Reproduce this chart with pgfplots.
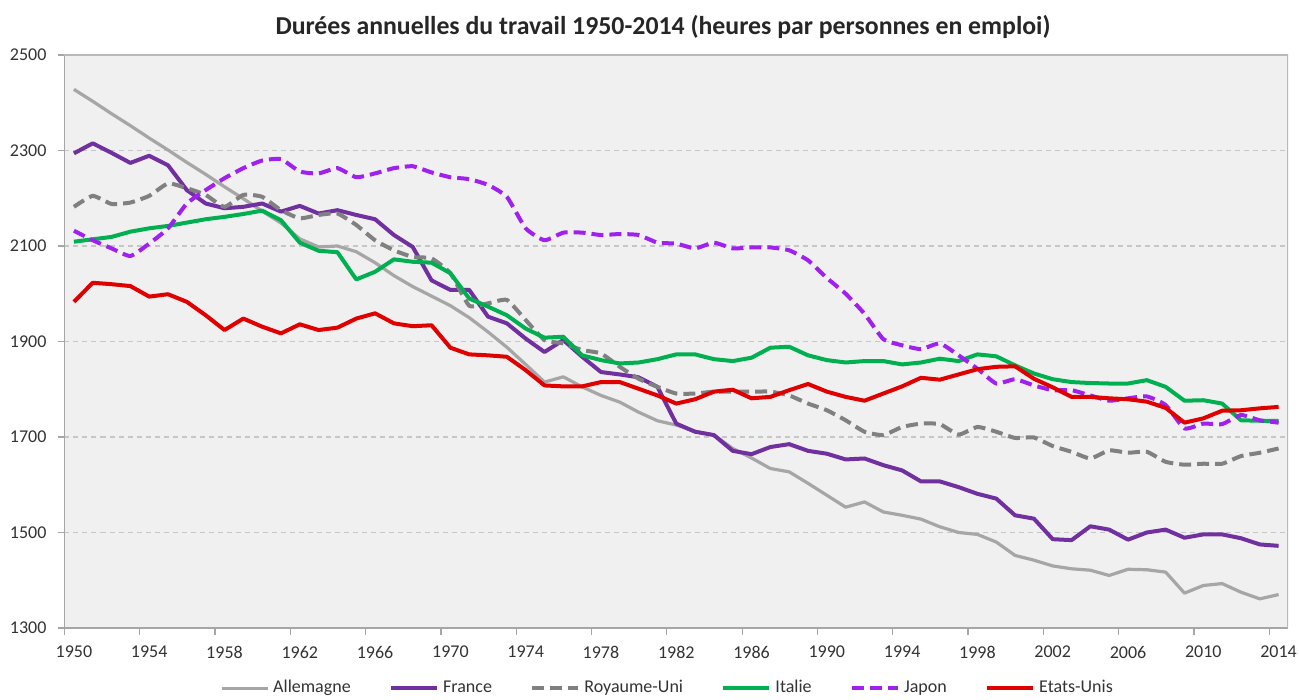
\documentclass[border=0pt]{standalone}
\usepackage{pgfplots}
\usepackage{pgfplotstable}
\pgfplotsset{compat=1.18}
\usepackage{fontspec}
\setmainfont{Carlito}
\definecolor{cDE}{HTML}{A6A6A6}
\definecolor{cFR}{HTML}{7030A0}
\definecolor{cUK}{HTML}{808080}
\definecolor{cIT}{HTML}{00B050}
\definecolor{cJP}{HTML}{A020F0}
\definecolor{cUS}{HTML}{E00000}
\definecolor{bgcol}{HTML}{F0F0F0}
\definecolor{txt}{HTML}{333333}
\pgfplotstableread{
year DE FR UK IT JP US
1950 2428 2294 2182 2109 2132 1983
1951 2403 2315 2205 2114 2112 2023
1952 2377 2295 2188 2119 2095 2020
1953 2352 2274 2191 2130 2079 2016
1954 2326 2289 2205 2137 2105 1994
1955 2301 2269 2231 2142 2137 1999
1956 2275 2217 2221 2149 2189 1983
1957 2250 2189 2207 2156 2217 1955
1958 2224 2179 2182 2161 2242 1924
1959 2199 2182 2207 2167 2263 1948
1960 2173 2189 2203 2174 2279 1931
1961 2148 2172 2175 2154 2282 1917
1962 2115 2184 2158 2107 2256 1936
1963 2098 2168 2165 2090 2252 1924
1964 2100 2175 2168 2087 2263 1929
1965 2088 2165 2144 2030 2244 1948
1966 2065 2156 2112 2046 2252 1959
1967 2038 2123 2091 2072 2263 1938
1968 2015 2098 2077 2067 2267 1932
1969 1995 2028 2074 2065 2254 1934
1970 1975 2008 2043 2043 2244 1887
1971 1950 2008 1975 1990 2240 1873
1972 1920 1952 1980 1973 2228 1871
1973 1888 1938 1987 1955 2203 1868
1974 1852 1906 1945 1927 2137 1840
1975 1815 1878 1903 1908 2112 1808
1976 1826 1903 1896 1910 2128 1806
1977 1805 1868 1882 1871 2128 1806
1978 1787 1836 1875 1861 2123 1815
1979 1773 1831 1847 1854 2125 1815
1980 1752 1825 1822 1856 2123 1801
1981 1734 1805 1805 1863 2107 1787
1982 1725 1728 1791 1873 2105 1770
1983 1712 1711 1791 1873 2095 1779
1984 1704 1704 1795 1863 2107 1795
1985 1676 1671 1795 1859 2095 1799
1986 1656 1664 1795 1866 2097 1781
1987 1634 1679 1795 1887 2097 1784
1988 1627 1685 1787 1889 2091 1798
1989 1603 1671 1770 1871 2070 1811
1990 1578 1665 1756 1861 2033 1795
1991 1553 1653 1735 1856 2000 1784
1992 1564 1655 1711 1859 1958 1776
1993 1543 1641 1704 1859 1905 1791
1994 1536 1630 1721 1852 1892 1806
1995 1528 1607 1728 1856 1884 1824
1996 1512 1607 1727 1864 1896 1820
1997 1500 1595 1705 1859 1871 1831
1998 1496 1581 1721 1873 1843 1842
1999 1480 1571 1711 1869 1812 1847
2000 1452 1536 1698 1850 1821 1848
2001 1442 1529 1699 1833 1808 1822
2002 1430 1486 1681 1821 1798 1804
2003 1424 1484 1669 1815 1798 1784
2004 1421 1513 1655 1813 1787 1784
2005 1410 1506 1672 1812 1776 1781
2006 1423 1485 1667 1812 1781 1779
2007 1422 1500 1669 1819 1785 1774
2008 1417 1506 1648 1805 1767 1761
2009 1373 1489 1642 1776 1718 1730
2010 1389 1496 1644 1777 1728 1739
2011 1393 1496 1644 1770 1727 1755
2012 1375 1488 1660 1735 1746 1756
2013 1361 1475 1667 1734 1735 1760
2014 1370 1472 1676 1734 1730 1763
}\data
\begin{document}
\begin{tikzpicture}[x=1pt,y=1pt]
\useasboundingbox (0,0) rectangle (649.5,350);
\node[font=\bfseries\fontsize{12.9}{14}\selectfont, text=black!85] at (331.5,336.5) {Durées annuelles du travail 1950-2014 (heures par personnes en emploi)};
\begin{axis}[
  at={(32.25pt,36pt)}, anchor=south west,
  scale only axis, width=611.75pt, height=286.5pt,
  xmin=1949.5, xmax=2014.5, ymin=1300, ymax=2500,
  xtick={1950,1954,...,2014},
  minor xtick={1949.5,1953.5,...,2013.6},
  ytick={1300,1500,...,2500},
  tick align=outside,
  major tick length=3.5pt, minor tick length=3.5pt,
  major x tick style={draw=none},
  minor x tick style={draw=gray!70, line width=0.6pt},
  major y tick style={draw=gray!70, line width=0.6pt},
  ymajorgrids,
  grid style={dash pattern=on 2.5pt off 2pt, draw=gray!45, line width=0.6pt},
  axis background/.style={fill=bgcol},
  axis x line*=bottom, axis y line*=left,
  axis line style={draw=gray!70, line width=0.7pt},
  /pgf/number format/1000 sep={},
  /pgf/number format/assume math mode=true,
  tick label style={font=\fontsize{9}{10}\selectfont, text=txt},
  xticklabel style={yshift=-2pt},
  yticklabel style={xshift=-2pt},
  legend columns=6,
  legend style={draw=none, fill=none, at={(0.4936,-0.105)}, anchor=center,
    font=\fontsize{9}{10}\selectfont, text=txt,
    /tikz/every even column/.append style={column sep=17.2pt}},
  legend image code/.code={\draw[#1] (0pt,0pt) -- (23pt,0pt);},
  every axis plot/.append style={line join=round},
]
\draw[gray!55, line width=0.7pt] (axis cs:1949.5,2500) -- (axis cs:2014.5,2500) -- (axis cs:2014.5,1300);
\addplot[cDE, line width=1.6pt] table[x=year,y=DE] {\data};
\addlegendentry{Allemagne}
\addplot[cFR, line width=2pt] table[x=year,y=FR] {\data};
\addlegendentry{France}
\addplot[cUK, line width=2pt, dash pattern=on 6pt off 3pt, smooth, tension=0.3] table[x=year,y=UK] {\data};
\addlegendentry{Royaume-Uni}
\addplot[cIT, line width=2pt] table[x=year,y=IT] {\data};
\addlegendentry{Italie}
\addplot[cJP, line width=2pt, dash pattern=on 6pt off 3pt, smooth, tension=0.3] table[x=year,y=JP] {\data};
\addlegendentry{Japon}
\addplot[cUS, line width=2pt] table[x=year,y=US] {\data};
\addlegendentry{Etats-Unis}
\end{axis}
\end{tikzpicture}
\end{document}
